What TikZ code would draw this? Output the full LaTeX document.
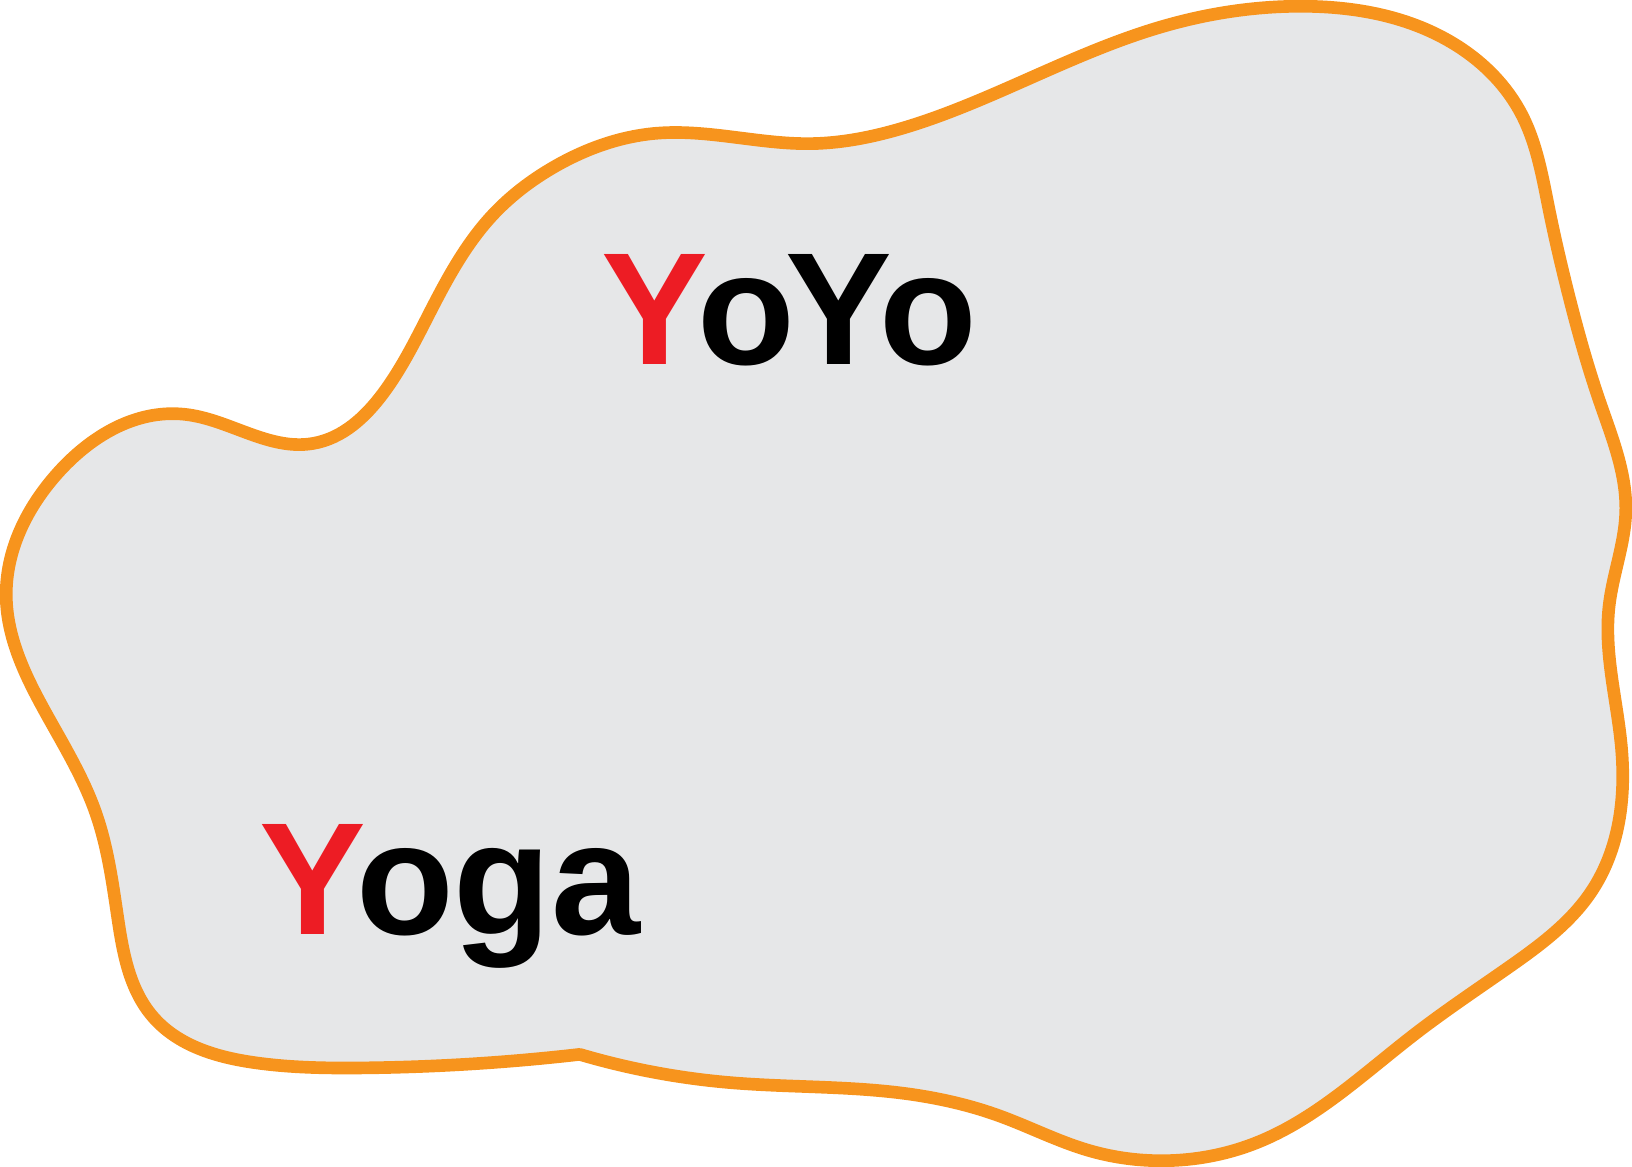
\documentclass[tikz,border=0pt]{standalone}
\usepackage{fontspec}
\setmainfont{Liberation Sans}
\usepackage{xcolor}
\usepackage{tikz}
\usetikzlibrary{positioning,hobby}

\definecolor{blobedge}{HTML}{F7941D}
\definecolor{blobfill}{HTML}{E6E7E8}
\definecolor{yred}{HTML}{ED1C24}

\newcommand{\redY}{\textcolor{yred}{Y}\kern-0.065em}

\begin{document}
\begin{tikzpicture}[
  x=0.010408cm, y=-0.010408cm,
  blob/.style={draw=blobedge, line width=3.6pt, fill=blobfill, line join=round, use Hobby shortcut},
  word/.style={anchor=base west, inner sep=0pt, font=\fontsize{45.5}{46}\selectfont\bfseries}
]
\useasboundingbox (0,0) rectangle (1568,1121);

% the blob, starting at its one corner
\draw[blob] (557,1013) .. (700,1040) .. (865,1050) .. (960,1072) .. (1045,1105)
  .. (1126,1115) .. (1207,1098) .. (1360,993) .. (1450,929) .. (1530,855)
  .. (1558,720) .. (1546,582) .. (1562,492) .. (1537,386) .. (1506,279) .. (1488,200)
  .. (1462,110) .. (1400,44) .. (1249,6) .. (1115,26) .. (992,74)
  .. (871,122) .. (778,138) .. (631,128) .. (533,160) .. (472,208)
  .. (411,304) .. (368,378) .. (301,426) .. (177,398) .. (55,455)
  .. (6,573) .. (44,685) .. (92,781) .. (113,881) .. (147,977)
  .. (245,1021) .. (349,1026) .. (557,1013) -- cycle;

% labels
\node[word] (yoyo) at (577,350) {\redY o\kern-0.065em Yo};
\node[word] (yoga) at (249,898) {\redY oga};
\end{tikzpicture}
\end{document}
